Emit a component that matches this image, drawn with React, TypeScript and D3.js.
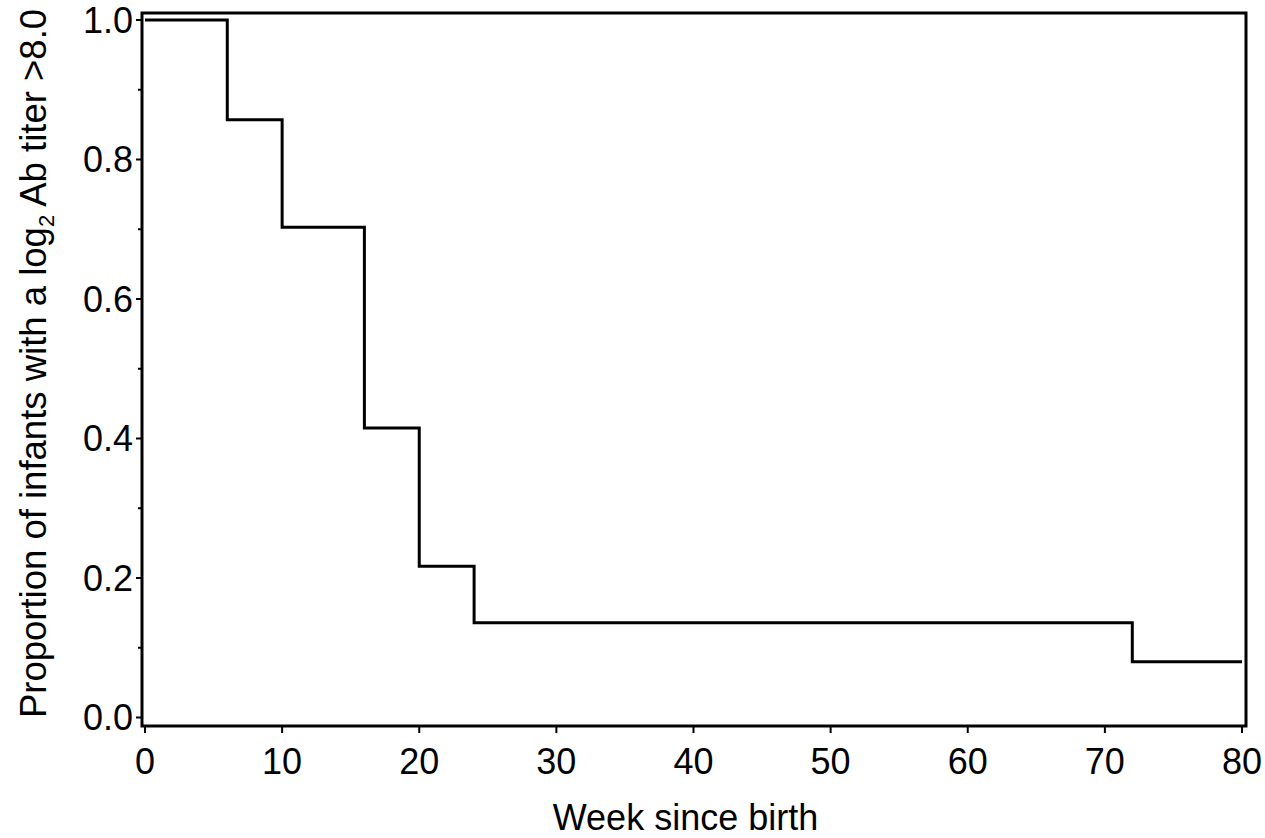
import React, { useEffect, useRef } from "react";
import * as d3 from "d3";

// Kaplan–Meier style step curve: week at which the proportion changes, and the new proportion
const stepWeeks = [0, 6, 10, 16, 20, 24, 72, 80];
const stepProportions = [1.0, 0.857, 0.703, 0.415, 0.217, 0.136, 0.08, 0.08];

const xTickValues = [0, 10, 20, 30, 40, 50, 60, 70, 80];
const yMajorTicks = [0, 0.2, 0.4, 0.6, 0.8, 1.0];
const yMinorTicks = [0.1, 0.3, 0.5, 0.7, 0.9];

const xTitle = "Week since birth";

const W = 1265;
const H = 838;
const FONT = "Liberation Sans, Arial, Helvetica, sans-serif";

export default function App() {
  const ref = useRef<SVGSVGElement | null>(null);

  useEffect(() => {
    const svg = d3.select(ref.current);
    svg.selectAll("*").remove();

    const frame = { left: 142, right: 1246, top: 13, bottom: 726 };
    const x = d3.scaleLinear().domain([0, 80]).range([145, 1242]);
    const y = d3.scaleLinear().domain([0, 1]).range([717.5, 20]);

    // frame box
    svg
      .append("rect")
      .attr("x", frame.left)
      .attr("y", frame.top)
      .attr("width", frame.right - frame.left)
      .attr("height", frame.bottom - frame.top)
      .attr("fill", "none")
      .attr("stroke", "#000")
      .attr("stroke-width", 3);

    // y ticks
    const yAxis = svg.append("g").attr("font-family", FONT);
    yAxis
      .selectAll("line.major")
      .data(yMajorTicks)
      .join("line")
      .attr("class", "major")
      .attr("x1", frame.left - 6)
      .attr("x2", frame.left)
      .attr("y1", (d) => y(d))
      .attr("y2", (d) => y(d))
      .attr("stroke", "#000")
      .attr("stroke-width", 2);
    yAxis
      .selectAll("line.minor")
      .data(yMinorTicks)
      .join("line")
      .attr("class", "minor")
      .attr("x1", frame.left - 4)
      .attr("x2", frame.left)
      .attr("y1", (d) => y(d))
      .attr("y2", (d) => y(d))
      .attr("stroke", "#000")
      .attr("stroke-width", 2);
    yAxis
      .selectAll("text")
      .data(yMajorTicks)
      .join("text")
      .attr("x", 133)
      .attr("y", (d) => y(d))
      .attr("dy", "0.36em")
      .attr("text-anchor", "end")
      .attr("font-size", 36)
      .attr("fill", "#000")
      .text((d) => d3.format(".1f")(d));

    // x ticks
    const xAxis = svg.append("g").attr("font-family", FONT);
    xAxis
      .selectAll("line")
      .data(xTickValues)
      .join("line")
      .attr("x1", (d) => x(d))
      .attr("x2", (d) => x(d))
      .attr("y1", frame.bottom)
      .attr("y2", frame.bottom + 7)
      .attr("stroke", "#000")
      .attr("stroke-width", 2);
    xAxis
      .selectAll("text")
      .data(xTickValues)
      .join("text")
      .attr("x", (d) => x(d))
      .attr("y", 774)
      .attr("text-anchor", "middle")
      .attr("font-size", 36)
      .attr("fill", "#000")
      .text((d) => String(d));

    // step curve
    const pts: [number, number][] = stepWeeks.map((w, i) => [w, stepProportions[i]]);
    const line = d3
      .line<[number, number]>()
      .x((d) => x(d[0]))
      .y((d) => y(d[1]))
      .curve(d3.curveStepAfter);
    svg
      .append("path")
      .attr("d", line(pts))
      .attr("fill", "none")
      .attr("stroke", "#000")
      .attr("stroke-width", 3);

    // axis titles
    svg
      .append("text")
      .attr("x", (x(0) + x(80)) / 2 - 8)
      .attr("y", 830)
      .attr("text-anchor", "middle")
      .attr("font-family", FONT)
      .attr("font-size", 36)
      .attr("fill", "#000")
      .text(xTitle);

    const yTitle = svg
      .append("text")
      .attr("transform", `translate(46, ${(frame.top + frame.bottom) / 2 - 6}) rotate(-90)`)
      .attr("text-anchor", "middle")
      .attr("font-family", FONT)
      .attr("font-size", 36.5)
      .attr("fill", "#000");
    yTitle.append("tspan").text("Proportion of infants with a log");
    yTitle.append("tspan").attr("font-size", 22).attr("dy", 8).text("2");
    yTitle.append("tspan").attr("dy", -8).text(" Ab titer >8.0");
  }, []);

  return (
    <svg
      ref={ref}
      width={W}
      height={H}
      style={{ position: "absolute", left: 0, top: 0, background: "#fff", display: "block" }}
    />
  );
}
